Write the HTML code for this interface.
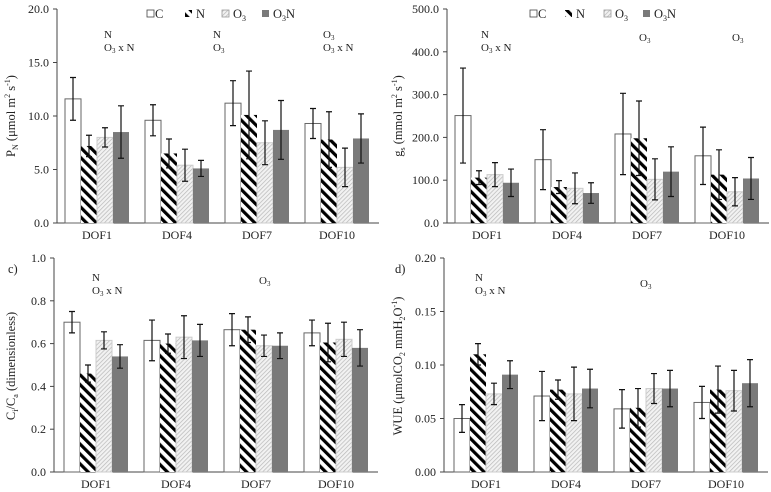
<!DOCTYPE html>
<html><head><meta charset="utf-8"><style>
html,body{margin:0;padding:0;background:#fff}
svg{display:block}
svg text{font-family:"Liberation Serif","Times New Roman",serif}
</style></head><body>
<svg id="chart" width="771" height="492" viewBox="0 0 771 492" font-family="Liberation Serif, serif">
<defs>
<pattern id="hatchN" patternUnits="userSpaceOnUse" width="7" height="7" patternTransform="rotate(-45)">
<rect width="7" height="7" fill="#fff"/><rect x="0" y="0" width="3.2" height="7" fill="#000"/>
</pattern>
<pattern id="hatchO" patternUnits="userSpaceOnUse" width="3" height="3" patternTransform="rotate(45)">
<rect width="3" height="3" fill="#f2f2f2"/><rect x="0" y="0" width="0.7" height="3" fill="#b8b8b8"/>
</pattern>
</defs>
</svg>
<script>
const categories = ["DOF1","DOF4","DOF7","DOF10"];
const seriesNames = ["C","N","O3","O3N"];
// Panel a: PN
const pnC = [11.6, 9.6, 11.2, 9.3];
const pnN = [7.2, 6.5, 10.1, 7.8];
const pnO3 = [8.0, 5.4, 7.5, 5.2];
const pnO3N = [8.5, 5.1, 8.7, 7.9];
const pnErrC = [2.0, 1.45, 2.1, 1.4];
const pnErrN = [1.0, 1.35, 4.1, 2.6];
const pnErrO3 = [0.9, 1.5, 2.05, 1.8];
const pnErrO3N = [2.45, 0.75, 2.75, 2.3];
const pnTicks = ["0.0","5.0","10.0","15.0","20.0"];
// Panel b: gs
const gsC = [251, 148, 208, 157];
const gsN = [106, 84, 198, 113];
const gsO3 = [113, 81, 102, 73];
const gsO3N = [94, 70, 120, 104];
const gsErrC = [111, 70, 95, 67];
const gsErrN = [16, 15, 87, 58];
const gsErrO3 = [28, 36, 48, 33];
const gsErrO3N = [32, 24, 58, 49];
const gsTicks = ["0.0","100.0","200.0","300.0","400.0","500.0"];
// Panel c: Ci/Ca
const ciC = [0.70, 0.615, 0.665, 0.65];
const ciN = [0.46, 0.60, 0.665, 0.605];
const ciO3 = [0.615, 0.63, 0.59, 0.62];
const ciO3N = [0.54, 0.615, 0.59, 0.58];
const ciErrC = [0.05, 0.095, 0.075, 0.06];
const ciErrN = [0.04, 0.045, 0.06, 0.09];
const ciErrO3 = [0.04, 0.10, 0.05, 0.08];
const ciErrO3N = [0.055, 0.075, 0.06, 0.085];
const ciTicks = ["0.0","0.2","0.4","0.6","0.8","1.0"];
// Panel d: WUE
const wueC = [0.050, 0.071, 0.059, 0.065];
const wueN = [0.110, 0.077, 0.060, 0.077];
const wueO3 = [0.073, 0.073, 0.078, 0.076];
const wueO3N = [0.091, 0.078, 0.078, 0.083];
const wueErrC = [0.013, 0.023, 0.018, 0.015];
const wueErrN = [0.010, 0.009, 0.018, 0.022];
const wueErrO3 = [0.010, 0.025, 0.014, 0.019];
const wueErrO3N = [0.013, 0.018, 0.017, 0.022];
const wueTicks = ["0.00","0.05","0.10","0.15","0.20"];

const NS="http://www.w3.org/2000/svg";
const svg=document.getElementById('chart');
function mk(tag,attrs,parent){const e=document.createElementNS(NS,tag);for(const k in attrs)e.setAttribute(k,attrs[k]);if(tag==='text')e.setAttribute('font-family','Liberation Serif, serif');(parent||svg).appendChild(e);return e;}
const fills=["#fff","url(#hatchN)","url(#hatchO)","#7a7a7a"];
const strokes=["#666","none","#ccc","none"];

function panel(p){
  const g=mk('g',{});
  
  
  const ymax=parseFloat(p.ticks[p.ticks.length-1]);
  const y=v=>p.y0-(v/ymax)*(p.y0-p.yTop);
  const cx=i=>p.x0+40+80*i;
  const ax=mk('line',{x1:p.axisX,y1:p.yTop,x2:p.axisX,y2:p.y0,stroke:'#444','stroke-width':1},g);
  
  
  const bx=mk('line',{x1:p.axisX,y1:p.y0,x2:p.x0+322,y2:p.y0,stroke:'#444','stroke-width':1},g);
  
  
  p.ticks.forEach(t=>{
    const yy=y(parseFloat(t));
    mk('line',{x1:p.axisX-4,y1:yy,x2:p.axisX,y2:yy,stroke:'#444'},g);
    const tx=mk('text',{x:p.axisX-8,y:yy+4,'text-anchor':'end','font-size':12,fill:'#222'},g);
    tx.textContent=t;
    
    
  });
  categories.forEach((c,i)=>{
    const tx=mk('text',{x:cx(i),y:p.y0+16,'text-anchor':'middle','font-size':12,fill:'#222'},g);
    tx.textContent=c;
    
    
    p.vals.forEach((arr,s)=>{
      const v=arr[i],e=p.errs[s][i];
      const x=cx(i)-32+16*s;
      const r=mk('rect',{x:x,y:y(v),width:16,height:p.y0-y(v),fill:fills[s],stroke:strokes[s],'stroke-width':1},g);
      
      
      const m=x+8;
      const eb=mk('path',{d:`M${m},${y(v+e)}V${y(v-e)}M${m-3},${y(v+e)}H${m+3}M${m-3},${y(v-e)}H${m+3}`,stroke:'#111','stroke-width':1.2,fill:'none'},g);
      
      
    });
  });
  const yl=mk('text',{x:0,y:0,transform:`translate(${p.labX},${p.labY}) rotate(-90)`,'text-anchor':'middle','font-size':12.5,fill:'#222'},g);
  yl.innerHTML=p.label;
  
  
  p.notes.forEach(n=>{
    const t=mk('text',{x:n[0],y:n[1],'font-size':11,fill:'#222'},g);
    t.innerHTML=n[2];
    
    
  });
  if(p.tag){const t=mk('text',{x:p.tag[0],y:p.tag[1],'font-size':12.5,fill:'#222'},g);t.textContent=p.tag[2];
    
    }
  if(p.legend){
    const L=p.legend;
    const items=[[L[0],'C'],[L[1],'N'],[L[2],'O<tspan font-size="8" dy="3">3</tspan>'],[L[3],'O<tspan font-size="8" dy="3">3</tspan><tspan dy="-3">N</tspan>']];
    items.forEach((it,s)=>{
      const r=mk('rect',{x:it[0],y:10,width:7,height:7,fill:fills[s],stroke:s==0?'#444':(s==2?'#999':'none'),'stroke-width':0.8},g);
      
      
      const t=mk('text',{x:it[0]+(s==0?8:11),y:18,'font-size':12.5,fill:'#222'},g);
      t.innerHTML=it[1];
      
      
    });
  }
}
const o3='O<tspan font-size="7" dy="2">3</tspan>';
const o3xn='O<tspan font-size="7" dy="2">3</tspan><tspan dy="-2"> x N</tspan>';
panel({name:'panel-a-pn',axisX:57,x0:57,yTop:9,y0:223,ticks:pnTicks,vals:[pnC,pnN,pnO3,pnO3N],errs:[pnErrC,pnErrN,pnErrO3,pnErrO3N],
 label:'P<tspan font-size="8" dy="3">N</tspan><tspan dy="-3"> (μmol m</tspan><tspan font-size="8" dy="-5">2</tspan><tspan dy="5"> s</tspan><tspan font-size="8" dy="-5">-1</tspan><tspan dy="5">)</tspan>',
 labX:15,labY:116,notes:[[104,38,'N'],[104,51,o3xn],[213,38,'N'],[213,51,o3],[323,38,o3],[323,51,o3xn]],legend:[147,185,222,262]});
panel({name:'panel-b-gs',axisX:447,x0:455-8,yTop:9,y0:223,ticks:gsTicks,vals:[gsC,gsN,gsO3,gsO3N],errs:[gsErrC,gsErrN,gsErrO3,gsErrO3N],
 label:'g<tspan font-size="8" dy="3">s</tspan><tspan dy="-3"> (mmol m</tspan><tspan font-size="8" dy="-5">2</tspan><tspan dy="5"> s</tspan><tspan font-size="8" dy="-5">-1</tspan><tspan dy="5">)</tspan>',
 labX:402,labY:116,notes:[[481,38,'N'],[481,51,o3xn],[639,41,o3],[732,41,o3]],legend:[530,565,604,643]});
panel({name:'panel-c-ci-ca',axisX:54,x0:56,yTop:258,y0:472,ticks:ciTicks,vals:[ciC,ciN,ciO3,ciO3N],errs:[ciErrC,ciErrN,ciErrO3,ciErrO3N],
 label:'C<tspan font-size="8" dy="3">i</tspan><tspan dy="-3">/C</tspan><tspan font-size="8" dy="3">a</tspan><tspan dy="-3"> (dimensionless)</tspan>',
 labX:15,labY:366,notes:[[92,281,'N'],[92,294,o3xn],[259,284,o3]],tag:[8,273,'c)']});
panel({name:'panel-d-wue',axisX:444,x0:446,yTop:258,y0:472,ticks:wueTicks,vals:[wueC,wueN,wueO3,wueO3N],errs:[wueErrC,wueErrN,wueErrO3,wueErrO3N],
 label:'WUE (μmolCO<tspan font-size="8" dy="3">2</tspan><tspan dy="-3"> mmH</tspan><tspan font-size="8" dy="3">2</tspan><tspan dy="-3">O</tspan><tspan font-size="8" dy="-5">-1</tspan><tspan dy="5">)</tspan>',
 labX:402,labY:366,notes:[[475,281,'N'],[475,294,o3xn],[640,287,o3]],tag:[395,273,'d)']});
</script>
</body></html>
